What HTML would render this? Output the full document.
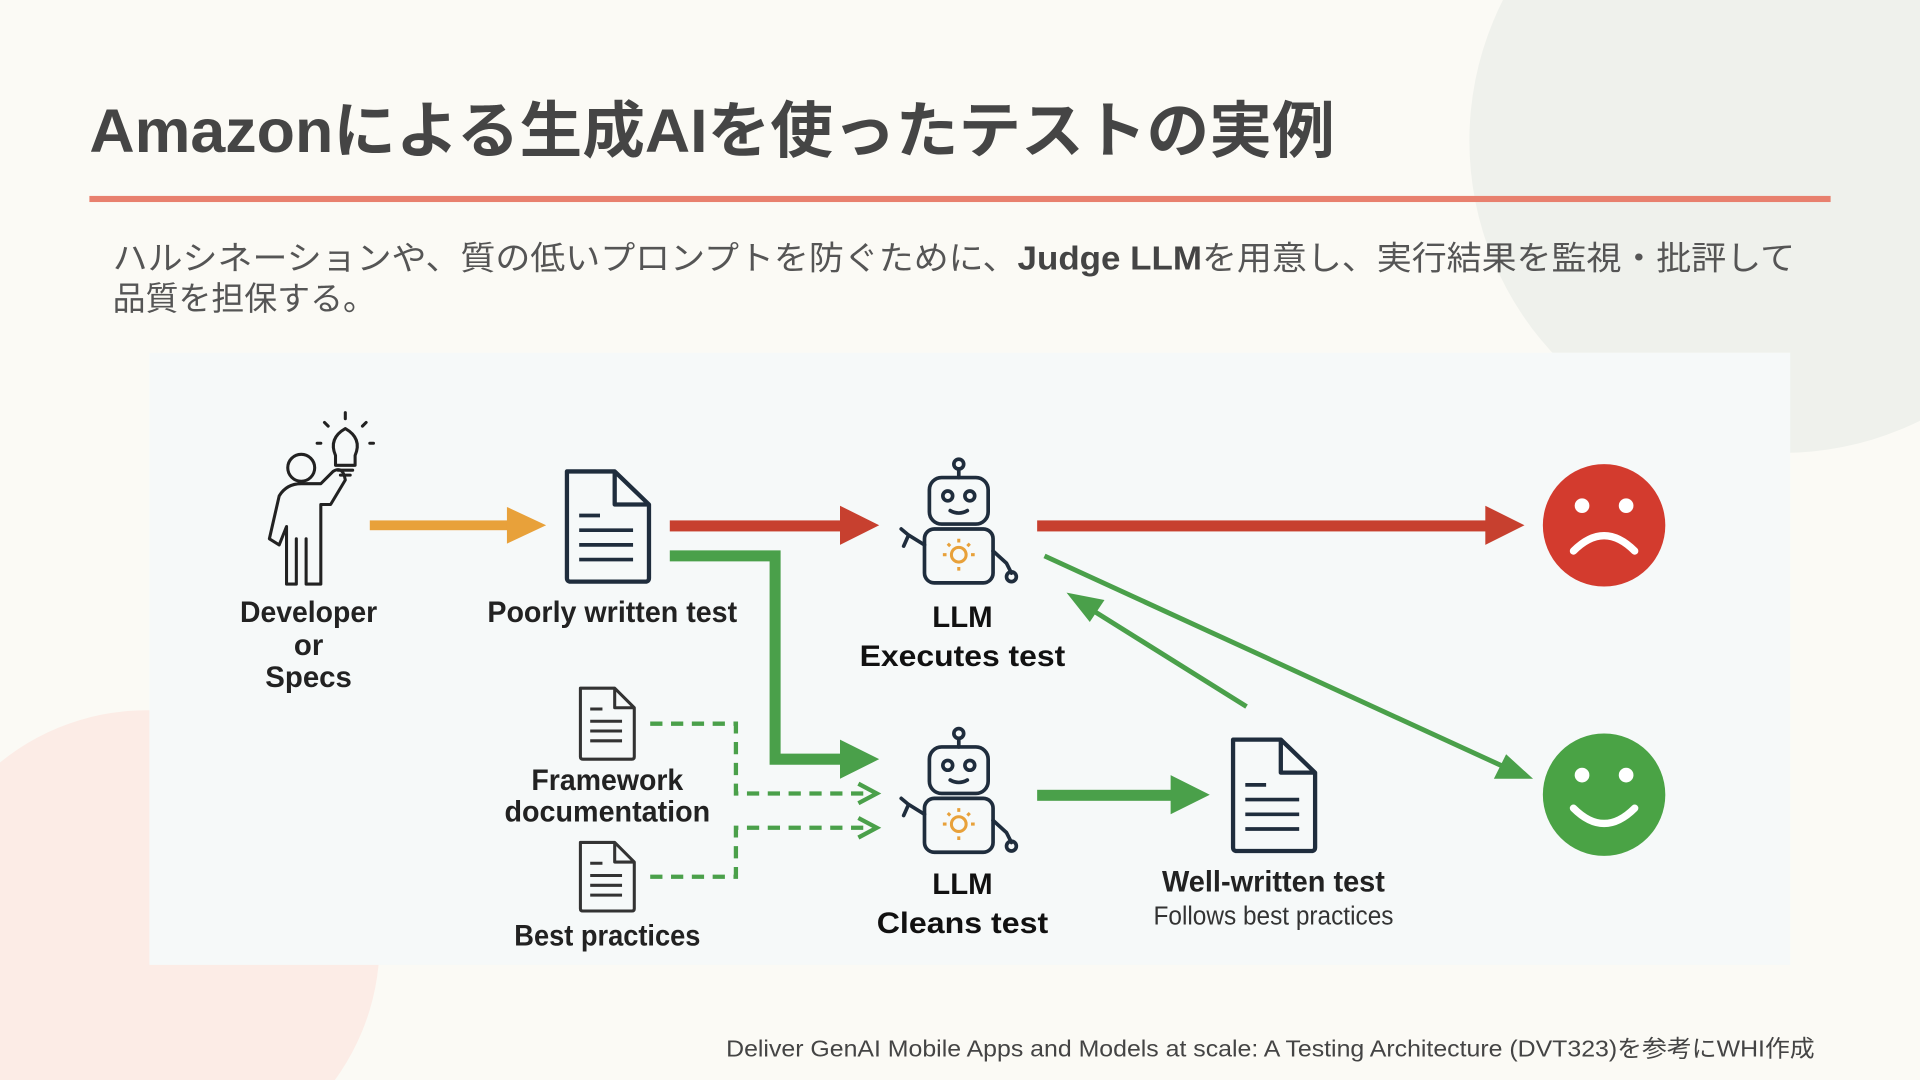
<!DOCTYPE html>
<html><head><meta charset="utf-8"><style>
html,body{margin:0;padding:0;width:1920px;height:1080px;overflow:hidden;background:#fbfaf5}
svg{display:block;position:absolute;left:0;top:0}
text{font-family:"Liberation Sans","Noto Sans CJK JP",sans-serif}
</style></head><body>
<svg width="1920" height="1080" viewBox="0 0 1568 882" preserveAspectRatio="none">
<defs><clipPath id="c"><rect x="0" y="0" width="1568" height="882"/></clipPath></defs>
<rect width="1568" height="882" fill="#fbfaf5"/>
<g clip-path="url(#c)">
<circle cx="1455" cy="115" r="255" fill="#eff1ec"/>
<circle cx="120" cy="770" r="190" fill="#fcece6"/>
</g>
<text x="73" y="124" font-size="50" font-weight="bold" fill="#454545" textLength="1017" lengthAdjust="spacingAndGlyphs">Amazonによる生成AIを使ったテストの実例</text>
<rect x="73" y="160" width="1422" height="5" fill="#e8806e"/>
<text x="92" y="220" font-size="27" fill="#555" textLength="1374" lengthAdjust="spacingAndGlyphs">ハルシネーションや、質の低いプロンプトを防ぐために、<tspan font-weight="bold" fill="#444">Judge LLM</tspan>を用意し、実行結果を監視・批評して</text>
<text x="92" y="253" font-size="27" fill="#555" textLength="215" lengthAdjust="spacingAndGlyphs">品質を担保する。</text>

<rect x="122" y="288" width="1340" height="500" fill="#f6f9f9"/>

<g fill="none" stroke="#222" stroke-width="2.5" stroke-linecap="round" stroke-linejoin="round">
<circle cx="246" cy="382" r="11"/>
<path d="M234 477 L234 430 L228 445 L220 440 L228 405 Q234 395 246 395 L262 395 L272 385 Q280 380 282 392 L270 412 L262 412 L262 477 M242 477 L242 440 M250 477 L250 440 M234 477 L242 477 M250 477 L262 477"/>
<path d="M274 372 Q268 358 282 350 Q296 358 290 372 L290 380 L274 380 Z M276 384 H288 M278 388 H286"/>
<path d="M282 342 V337 M268 348 L265 345 M296 348 L299 345 M262 362 H259 M302 362 H305"/>
</g>
<rect x="302" y="425" width="118" height="8" fill="#e8a13a"/>
<path d="M414 414 L446 429 L414 444 Z" fill="#e8a13a"/>

<g fill="none" stroke="#1f2d3d" stroke-width="3.5" stroke-linejoin="round">
<path d="M463 385 H502 L530 412 V472 Q530 475 527 475 H466 Q463 475 463 472 Z M502 385 V412 H530"/>
<path d="M473 421 H490 M473 433 H517 M473 445 H517 M473 457 H517" stroke-width="3"/>
</g>
<text x="500" y="508" font-size="24" font-weight="bold" fill="#222" text-anchor="middle" textLength="204" lengthAdjust="spacingAndGlyphs">Poorly written test</text>
<text x="252" y="508" font-size="24" font-weight="bold" fill="#222" text-anchor="middle" textLength="112" lengthAdjust="spacingAndGlyphs">Developer</text>
<text x="252" y="535" font-size="24" font-weight="bold" fill="#222" text-anchor="middle">or</text>
<text x="252" y="561" font-size="24" font-weight="bold" fill="#222" text-anchor="middle">Specs</text>

<rect x="547" y="425" width="145" height="9" fill="#c7402f"/>
<path d="M686 413 L718 429 L686 445 Z" fill="#c7402f"/>
<rect x="847" y="425" width="372" height="9" fill="#c7402f"/>
<path d="M1213 413 L1245 429 L1213 445 Z" fill="#c7402f"/>

<path d="M547 454 H633 V620 H690" fill="none" stroke="#4aa04a" stroke-width="9"/>
<path d="M686 604 L718 620 L686 636 Z" fill="#4aa04a"/>

<g id="r1" fill="none" stroke="#1f2d3d" stroke-width="3" stroke-linejoin="round" stroke-linecap="round">
<circle cx="783" cy="379" r="4"/>
<path d="M783 383 V390"/>
<rect x="759" y="390" width="48" height="38" rx="10"/>
<circle cx="774" cy="405" r="4"/><circle cx="792" cy="405" r="4"/>
<path d="M776 417 Q783 421 790 417"/>
<rect x="755" y="432" width="56" height="44" rx="8"/>
<path d="M755 445 L742 437 M742 437 L736 432 M742 437 L738 446 M811 450 L822 460 L826 468"/>
<circle cx="826" cy="471" r="4"/>
</g>
<g fill="none" stroke="#e8a13a" stroke-width="2.5">
<circle cx="783" cy="453" r="6"/><path d="M783 440 V443 M783 463 V466 M770 453 H773 M793 453 H796 M774 444 L776 446 M792 444 L790 446"/>
</g>
<use href="#r1" y="220"/>
<g fill="none" stroke="#e8a13a" stroke-width="2.5" transform="translate(0,220)">
<circle cx="783" cy="453" r="6"/><path d="M783 440 V443 M783 463 V466 M770 453 H773 M793 453 H796 M774 444 L776 446 M792 444 L790 446"/>
</g>
<text x="786" y="512" font-size="24" font-weight="bold" fill="#111" text-anchor="middle">LLM</text>
<text x="786" y="544" font-size="24" font-weight="bold" fill="#111" text-anchor="middle" textLength="168" lengthAdjust="spacingAndGlyphs">Executes test</text>
<text x="786" y="730" font-size="24" font-weight="bold" fill="#111" text-anchor="middle">LLM</text>
<text x="786" y="762" font-size="24" font-weight="bold" fill="#111" text-anchor="middle" textLength="140" lengthAdjust="spacingAndGlyphs">Cleans test</text>

<circle cx="1310" cy="429" r="50" fill="#d33b2e"/>
<circle cx="1292" cy="413" r="6" fill="#fff"/><circle cx="1328" cy="413" r="6" fill="#fff"/>
<path d="M1285 450 Q1310 425 1335 450" fill="none" stroke="#fff" stroke-width="6" stroke-linecap="round"/>
<circle cx="1310" cy="649" r="50" fill="#4aa345"/>
<circle cx="1292" cy="633" r="6" fill="#fff"/><circle cx="1328" cy="633" r="6" fill="#fff"/>
<path d="M1285 660 Q1310 685 1335 660" fill="none" stroke="#fff" stroke-width="6" stroke-linecap="round"/>

<line x1="853" y1="454" x2="1230" y2="627" stroke="#4aa04a" stroke-width="4"/>
<path d="M1252 636 L1220 636 L1230 616 Z" fill="#4aa04a"/>
<line x1="1018" y1="577" x2="890" y2="497" stroke="#4aa04a" stroke-width="4"/>
<path d="M871 484 L902 490 L890 508 Z" fill="#4aa04a"/>

<rect x="847" y="645" width="115" height="9" fill="#4aa04a"/>
<path d="M956 633 L988 649 L956 665 Z" fill="#4aa04a"/>

<g fill="none" stroke="#1f2d3d" stroke-width="3.5" stroke-linejoin="round">
<path d="M1007 604 H1046 L1074 631 V692 Q1074 695 1071 695 H1010 Q1007 695 1007 692 Z M1046 604 V631 H1074"/>
<path d="M1017 641 H1034 M1017 653 H1061 M1017 665 H1061 M1017 677 H1061" stroke-width="3"/>
</g>
<text x="1040" y="728" font-size="24" font-weight="bold" fill="#222" text-anchor="middle" textLength="182" lengthAdjust="spacingAndGlyphs">Well-written test</text>
<text x="1040" y="755" font-size="21" fill="#333" text-anchor="middle" textLength="196" lengthAdjust="spacingAndGlyphs">Follows best practices</text>

<g fill="none" stroke="#333" stroke-width="2.5" stroke-linejoin="round">
<path d="M474 562 H502 L518 578 V618 Q518 620 516 620 H476 Q474 620 474 618 Z M502 562 V578 H518"/>
<path d="M482 579 H492 M482 589 H508 M482 597 H508 M482 605 H508"/>
<path d="M474 688 H502 L518 704 V742 Q518 744 516 744 H476 Q474 744 474 742 Z M502 688 V704 H518"/>
<path d="M482 705 H492 M482 715 H508 M482 723 H508 M482 731 H508"/>
</g>
<text x="496" y="645" font-size="24" font-weight="bold" fill="#222" text-anchor="middle" textLength="124" lengthAdjust="spacingAndGlyphs">Framework</text>
<text x="496" y="671" font-size="24" font-weight="bold" fill="#222" text-anchor="middle" textLength="168" lengthAdjust="spacingAndGlyphs">documentation</text>
<text x="496" y="772" font-size="24" font-weight="bold" fill="#222" text-anchor="middle" textLength="152" lengthAdjust="spacingAndGlyphs">Best practices</text>

<g fill="none" stroke="#4aa04a" stroke-width="3.5" stroke-dasharray="10 7">
<path d="M531 591 H601 V648 H705"/>
<path d="M531 716 H601 V676 H705"/>
</g>
<path d="M701 640 L716 648 L701 656" fill="none" stroke="#4aa04a" stroke-width="3.5"/>
<path d="M701 668 L716 676 L701 684" fill="none" stroke="#4aa04a" stroke-width="3.5"/>

<text x="593" y="863" font-size="19" fill="#444" textLength="889" lengthAdjust="spacingAndGlyphs">Deliver GenAI Mobile Apps and Models at scale: A Testing Architecture (DVT323)を参考にWHI作成</text>
</svg>
</body></html>
